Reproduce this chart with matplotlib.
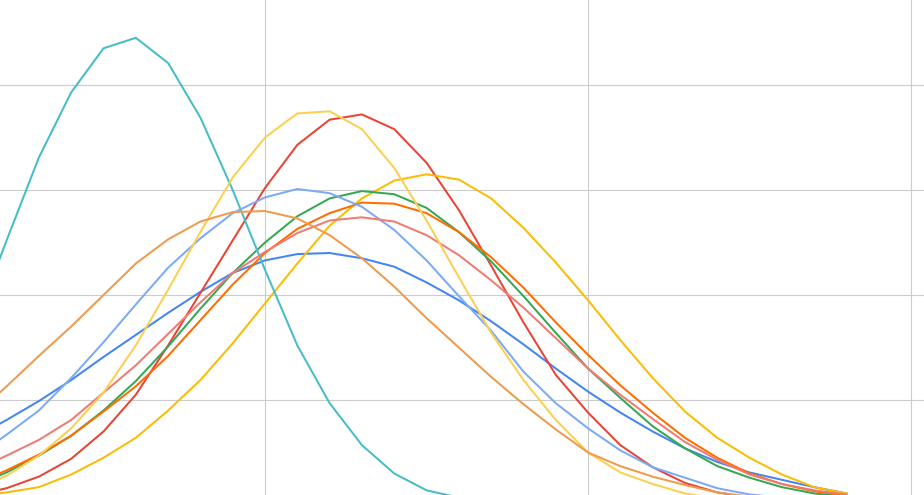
import numpy as np
import matplotlib
matplotlib.use("Agg")
import matplotlib.pyplot as plt

## x positions of the points (one step per point, grid every 10)
x = list(range(-9, 19))

## series values
blue = [6.4, 8.1, 9.9, 11.9, 14.1, 16.2, 18.3, 20.3, 22.1, 23.3, 23.9, 24.0, 23.5, 22.7,
        21.2, 19.5, 17.5, 15.3, 13.0, 10.8, 8.8, 7.0, 5.4, 4.1, 3.1, 2.4, 1.7, 1.1]
red = [0.9, 1.6, 2.7, 4.4, 7.0, 10.5, 15.2, 20.2, 25.2, 30.2, 34.3, 36.7, 37.2, 35.8,
       32.6, 28.1, 22.8, 17.4, 12.4, 8.8, 5.7, 3.6, 2.1, 1.2, 0.7, 0.4, 0.2, 0.1]
amber = [0.8, 1.2, 1.7, 2.9, 4.5, 6.4, 9.0, 11.9, 15.4, 19.2, 23.0, 26.6, 29.2, 30.9,
         31.5, 31.0, 29.2, 26.4, 23.1, 19.5, 15.7, 12.1, 8.9, 6.4, 4.5, 2.9, 1.7, 1.1]
green = [1.8, 3.1, 4.7, 6.6, 9.0, 11.8, 15.1, 18.7, 22.1, 25.0, 27.5, 29.2, 29.9, 29.6,
         28.3, 26.0, 23.2, 19.9, 16.4, 13.0, 10.2, 7.5, 5.4, 3.7, 2.6, 1.7, 1.1, 0.8]
orange = [2.0, 3.3, 4.8, 6.6, 8.9, 11.3, 14.2, 17.6, 21.0, 24.0, 26.3, 27.8, 28.8, 28.7,
          27.8, 26.0, 23.6, 20.7, 17.4, 14.3, 11.4, 8.8, 6.4, 4.5, 3.0, 2.0, 1.3, 0.9]
teal = [17.1, 25.2, 33.1, 39.3, 43.5, 44.5, 42.1, 36.9, 30.0, 22.4, 15.2, 9.7, 5.7, 3.0,
        1.4, 0.7, 0.3, 0.1, 0.0, 0.0, 0.0, 0.0, 0.0, 0.0, 0.0, 0.0, 0.0, 0.0]
light_blue = [4.5, 6.7, 9.0, 12.1, 15.5, 19.1, 22.6, 25.4, 27.8, 29.3, 30.1, 29.7, 28.4, 26.2,
              23.3, 19.9, 16.6, 12.7, 9.7, 7.3, 5.2, 3.6, 2.6, 1.6, 1.0, 0.7, 0.4, 0.2]
salmon = [3.3, 4.7, 6.2, 8.1, 10.7, 13.3, 16.3, 19.3, 22.1, 24.1, 25.9, 27.1, 27.4, 27.0,
          25.7, 23.8, 21.4, 18.8, 15.9, 13.0, 10.5, 8.2, 6.0, 4.3, 2.9, 2.0, 1.4, 1.0]
light_yellow = [1.4, 2.8, 4.7, 7.3, 10.7, 15.2, 20.5, 26.0, 31.2, 35.0, 37.3, 37.5, 35.8, 32.1,
                27.1, 21.7, 16.4, 11.9, 8.1, 5.0, 3.1, 2.0, 1.1, 0.6, 0.3, 0.1, 0.0, 0.0]
light_orange = [8.5, 11.3, 14.2, 17.0, 20.0, 23.0, 25.3, 27.0, 27.9, 28.0, 27.3, 25.7, 23.5, 20.8,
                17.8, 15.0, 12.2, 9.6, 7.2, 5.0, 3.7, 2.7, 1.9, 1.2, 0.8, 0.5, 0.3, 0.1]

series = [blue, red, amber, green, orange, teal, light_blue, salmon, light_yellow, light_orange]
colors = ['#4285F4', '#EA4335', '#FBBC04', '#34A853', '#FF6D01',
          '#46BDC6', '#7BAAF7', '#F07B72', '#FCD04F', '#F09A4C']

fig = plt.figure(figsize=(9.24, 4.95), dpi=100)
ax = fig.add_axes([0, 0, 1, 1])

for vals, c in zip(series, colors):
    ax.plot(x, vals, color=c, linewidth=1.45, solid_joinstyle='miter')

ax.set_xlim(-8.204, 20.40)
ax.set_ylim(0.952, 48.1)
ax.set_xticks([0, 10, 20])
ax.set_yticks([10, 20, 30, 40])
ax.grid(True, color='#cccccc', linewidth=0.8)
ax.set_axisbelow(True)
ax.tick_params(length=0, labelbottom=False, labelleft=False)
for s in ax.spines.values():
    s.set_visible(False)

fig.savefig('out.png', dpi=100)
